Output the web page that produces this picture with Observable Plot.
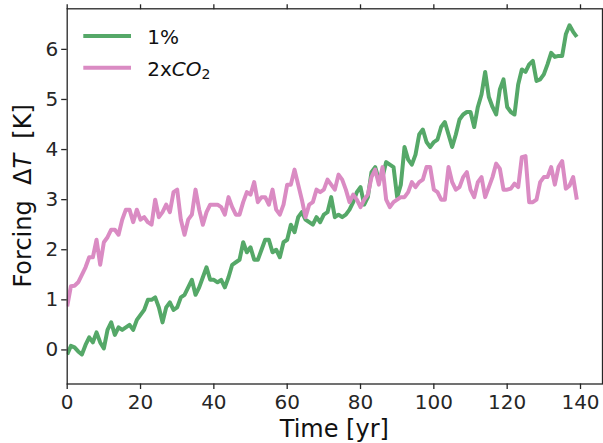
<!DOCTYPE html>
<html>
<head>
<meta charset="utf-8">
<script src="https://cdn.jsdelivr.net/npm/d3@7"></script>
<script src="https://cdn.jsdelivr.net/npm/@observablehq/plot@0.6"></script>
<style>
  html, body { margin: 0; padding: 0; background: white; overflow: hidden; }
  #chart { width: 603px; height: 443px; }
</style>
</head>
<body>
<div id="chart"></div>
<script>
const seriesNames = ["1%", "2xCO2"];
const seriesColors = ["#55A868", "#DA8BC3"];
const xTicks = [0, 20, 40, 60, 80, 100, 120, 140];
const yTicks = [0, 1, 2, 3, 4, 5, 6];

const onePercent = [
  -0.09, 0.08, 0.05, -0.03, -0.09, 0.1, 0.25, 0.15, 0.35, 0.15,
  0.03, 0.4, 0.55, 0.3, 0.45, 0.4, 0.45, 0.5, 0.4, 0.6,
  0.7, 0.8, 1.0, 1.0, 1.05, 0.85, 0.55, 0.85, 0.95, 0.8,
  0.85, 1.05, 1.1, 1.25, 1.4, 1.1, 1.25, 1.45, 1.65, 1.4,
  1.4, 1.35, 1.4, 1.25, 1.45, 1.7, 1.75, 1.8, 2.15, 1.95,
  2.05, 1.8, 1.8, 2.0, 2.2, 2.2, 1.95, 2.0, 1.85, 2.15,
  2.2, 2.5, 2.35, 2.65, 2.75, 2.6, 2.55, 2.5, 2.65, 2.55,
  2.7, 2.75, 3.05, 2.65, 2.7, 2.65, 2.7, 2.8, 2.95, 3.15,
  3.25, 2.9, 3.05, 3.55, 3.65, 3.4, 3.45, 3.75, 3.7, 3.65,
  3.05, 3.3, 4.05, 3.8, 3.7, 3.9, 4.3, 4.4, 4.15, 4.05,
  4.15, 4.2, 4.45, 4.55, 4.3, 4.05, 4.3, 4.6, 4.7, 4.75,
  4.75, 4.45, 4.85, 5.1, 5.55, 5.05, 4.85, 4.7, 5.2, 5.4,
  4.85, 4.75, 4.7, 5.3, 5.6, 5.55, 5.7, 5.77, 5.37, 5.4,
  5.5, 5.7, 5.93, 5.85, 5.87, 5.87, 6.3, 6.48, 6.35, 6.25
];

const doubleCO2 = [
  0.87, 1.27, 1.28, 1.35, 1.5, 1.65, 1.85, 1.85, 2.2, 1.7,
  2.15, 2.25, 2.4, 2.4, 2.3, 2.6, 2.8, 2.8, 2.55, 2.8,
  2.6, 2.65, 2.55, 2.5, 3.0, 2.65, 2.75, 2.9, 2.75, 3.15,
  3.2, 2.6, 2.3, 2.6, 2.7, 3.2, 2.8, 2.5, 2.75, 2.9,
  2.9, 2.9, 2.85, 2.7, 3.05, 2.85, 2.7, 2.7, 2.95, 3.15,
  3.1, 3.35, 2.95, 3.05, 3.05, 2.9, 3.2, 2.8, 2.7, 2.9,
  3.3, 3.3, 3.6, 3.3, 3.0, 2.65, 2.9, 2.95, 3.2, 3.15,
  3.2, 3.4, 3.3, 3.2, 3.5, 3.4, 3.2, 2.95, 3.1, 3.0,
  2.85, 3.0, 3.1, 3.45, 3.6, 3.3, 3.65, 3.0, 2.85, 2.95,
  3.0, 3.05, 3.05, 3.15, 3.35, 3.25, 3.35, 3.4, 3.65, 3.65,
  3.2, 3.15, 3.0, 3.0, 3.65, 3.35, 3.2, 3.25, 3.45, 3.55,
  3.2, 3.05, 3.35, 3.45, 3.05, 3.25, 3.45, 3.72, 3.62, 3.2,
  3.2, 3.22, 3.32, 3.25, 3.85, 3.87, 2.95, 2.95, 3.0, 3.35,
  3.45, 3.45, 3.65, 3.3, 3.65, 3.77, 3.22, 3.28, 3.45, 3.0
];

const years = onePercent.map((_, i) => i);

const rows = [];
years.forEach((t, i) => rows.push({t, v: onePercent[i], s: seriesNames[0]}));
years.forEach((t, i) => rows.push({t, v: doubleCO2[i], s: seriesNames[1]}));

const W = 603, H = 443;
const mL = 66.7, mR = 1, mT = 8.3, mB = 59.5;
const FONT = "DejaVu Sans";
const AXC = "#262626";
const fmt = d => String(d);
const noLabel = () => "";

const plot = Plot.plot({
  width: W,
  height: H,
  marginLeft: mL,
  marginRight: mR,
  marginTop: mT,
  marginBottom: mB,
  style: {fontFamily: FONT, fontSize: "20px", background: "white", color: AXC, overflow: "visible"},
  x: {domain: [0, 146], label: null},
  y: {domain: [-0.68, 6.81], label: null},
  color: {domain: seriesNames, range: seriesColors},
  marks: [
    Plot.line(rows, {x: "t", y: "v", z: "s", stroke: "s", strokeWidth: 4, strokeLinejoin: "round", strokeLinecap: "butt", clip: true}),
    Plot.frame({stroke: AXC, strokeWidth: 1.3}),
    Plot.axisX(xTicks, {anchor: "bottom", tickSize: 5.5, tickPadding: 5, fontSize: 20, tickFormat: fmt, stroke: AXC, strokeWidth: 1.3, label: null}),
    Plot.axisX(xTicks, {anchor: "top", tickSize: 5, tickFormat: noLabel, stroke: AXC, strokeWidth: 1.3, label: null}),
    Plot.axisY(yTicks, {anchor: "left", tickSize: 5.5, tickPadding: 3.5, fontSize: 20, tickFormat: fmt, stroke: AXC, strokeWidth: 1.3, label: null}),
    Plot.axisY(yTicks, {anchor: "right", tickSize: 5, tickFormat: noLabel, stroke: AXC, strokeWidth: 1.3, label: null})
  ]
});

document.getElementById("chart").appendChild(plot);

const svg = d3.select(plot);
const cx = (mL + (W - mR)) / 2;
const cy = (mT + (H - mB)) / 2;

// x axis label
svg.append("text")
  .attr("x", cx).attr("y", 437)
  .attr("text-anchor", "middle")
  .attr("font-family", FONT).attr("font-size", 24).attr("fill", "#111")
  .text("Time [yr]");

// y axis label
const yl = svg.append("text")
  .attr("transform", `translate(31,${cy}) rotate(-90)`)
  .attr("text-anchor", "middle")
  .attr("font-family", FONT).attr("font-size", 24).attr("fill", "#111");
yl.append("tspan").text("Forcing\u00a0\u00a0\u0394");
yl.append("tspan").attr("font-style", "italic").text("T");
yl.append("tspan").text("\u00a0\u00a0[K]");

// legend
const leg = svg.append("g").attr("text-anchor", "start");
const legY = [36, 67.7];
seriesNames.forEach((name, i) => {
  leg.append("line")
    .attr("x1", 83.3).attr("x2", 131)
    .attr("y1", legY[i]).attr("y2", legY[i])
    .attr("stroke", seriesColors[i]).attr("stroke-width", 4);
});
leg.append("text")
  .attr("x", 147.3).attr("y", legY[0] + 7.8)
  .attr("text-anchor", "start")
  .attr("font-family", FONT).attr("font-size", 20).attr("fill", "#111")
  .text(seriesNames[0]);
const t2 = leg.append("text")
  .attr("x", 147.3).attr("y", legY[1] + 7.8)
  .attr("text-anchor", "start")
  .attr("font-family", FONT).attr("font-size", 20).attr("fill", "#111");
t2.append("tspan").text("2x");
t2.append("tspan").attr("font-style", "italic").text("CO");
t2.append("tspan").attr("font-size", 14).attr("dy", 3.5).text("2");
</script>
</body>
</html>
